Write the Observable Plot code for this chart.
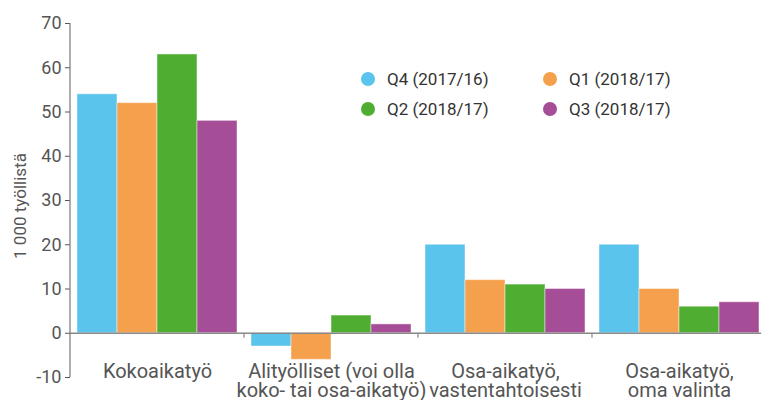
<!DOCTYPE html>
<html>
<head>
<meta charset="utf-8">
<script src="https://cdn.jsdelivr.net/npm/d3@7"></script>
<script src="https://cdn.jsdelivr.net/npm/@observablehq/plot@0.6"></script>
<style>
  html, body { margin: 0; padding: 0; background: #fff; overflow: hidden; }
  #wrap { position: relative; width: 761px; height: 400px; overflow: hidden; font-family: Roboto, "Noto Sans", sans-serif; }
  #chart { position: absolute; left: 0; top: 0; width: 767px; }
  #chart svg { max-width: none !important; }
  #ylabel { position: absolute; left: 20px; top: 206px; transform: translate(-50%, -50%) rotate(-90deg); font-size: 17px; color: #555; white-space: nowrap; }
  .leg { position: absolute; font-size: 17px; color: #333; white-space: nowrap; line-height: 20px; }
  .leg span.dot { position: absolute; left: -26px; top: 3px; width: 14px; height: 14px; border-radius: 50%; }
</style>
</head>
<body>
<div id="wrap">
  <div id="chart"></div>
  <div id="ylabel">1 000 työllistä</div>
  <div id="legend"></div>
</div>
<script>
const categories = ["Kokoaikatyö", "Alityölliset", "Osa-aikatyö vastentahtoisesti", "Osa-aikatyö oma valinta"];
const categoryLabels = ["Kokoaikatyö", "Alityölliset (voi olla\nkoko- tai osa-aikatyö)", "Osa-aikatyö,\nvastentahtoisesti", "Osa-aikatyö,\noma valinta"];
const series = ["Q4 (2017/16)", "Q1 (2018/17)", "Q2 (2018/17)", "Q3 (2018/17)"];
const colors = ["#5bc4ec", "#f5a04c", "#4fae32", "#a54d96"];
const valuesQ4 = [54, -3, 20, 20];
const valuesQ1 = [52, -6, 12, 10];
const valuesQ2 = [63, 4, 11, 6];
const valuesQ3 = [48, 2, 10, 7];
const yTicks = [-10, 0, 10, 20, 30, 40, 50, 60, 70];

const seriesValues = [valuesQ4, valuesQ1, valuesQ2, valuesQ3];
const data = [];
categories.forEach((c, i) => series.forEach((s, j) => data.push({cat: c, series: s, value: seriesValues[j][i]})));
const labelOf = new Map(categories.map((c, i) => [c, categoryLabels[i]]));

const chart = Plot.plot({
  width: 767,
  height: 400,
  marginLeft: 70,
  marginRight: 1,
  marginTop: 23,
  marginBottom: 23,
  style: {fontFamily: "Roboto, sans-serif", fontSize: "18px", color: "#555", background: "transparent", overflow: "visible", maxWidth: "none"},
  fx: {domain: categories, padding: 0, axis: null},
  x: {domain: series, paddingInner: 0, paddingOuter: 0.122, axis: null},
  y: {domain: [-10, 70], ticks: yTicks, tickSize: 5, tickPadding: 4, label: null, tickFormat: d => String(d)},
  color: {domain: series, range: colors},
  marks: [
    Plot.barY(data, {fx: "cat", x: "series", y: "value", fill: "series", stroke: "#fff", strokeOpacity: 0.45, strokeWidth: 1}),
    Plot.ruleY([0], {stroke: "#888", strokeWidth: 1.5}),
    Plot.text(categories, {fx: d => d, text: d => labelOf.get(d), frameAnchor: "bottom", lineAnchor: "top", dy: -13, fontSize: 20, lineHeight: 0.95, fill: "#555"})
  ]
});
document.getElementById("chart").appendChild(chart);

// axis line and category boundary ticks from Plot's own scales
const svg = d3.select(chart);
const yS = chart.scale("y");
const fxS = chart.scale("fx");
const y0 = yS.apply(0);
svg.append("line")
  .attr("x1", 70).attr("x2", 70)
  .attr("y1", yS.apply(70)).attr("y2", yS.apply(-10))
  .attr("stroke", "#777").attr("stroke-width", 1.2);
categories.slice(0, -1).forEach(c => {
  const xb = fxS.apply(c) + fxS.bandwidth;
  svg.append("line")
    .attr("x1", xb).attr("x2", xb)
    .attr("y1", y0).attr("y2", y0 + 5)
    .attr("stroke", "#888").attr("stroke-width", 1.2);
});

// legend
const legendPos = [[387, 69], [569, 69], [387, 99], [569, 99]];
const legend = document.getElementById("legend");
series.forEach((s, i) => {
  const d = document.createElement("div");
  d.className = "leg";
  d.style.left = legendPos[i][0] + "px";
  d.style.top = legendPos[i][1] + "px";
  d.innerHTML = `<span class="dot" style="background:${colors[i]}"></span>${s}`;
  legend.appendChild(d);
});
</script>
</body>
</html>
